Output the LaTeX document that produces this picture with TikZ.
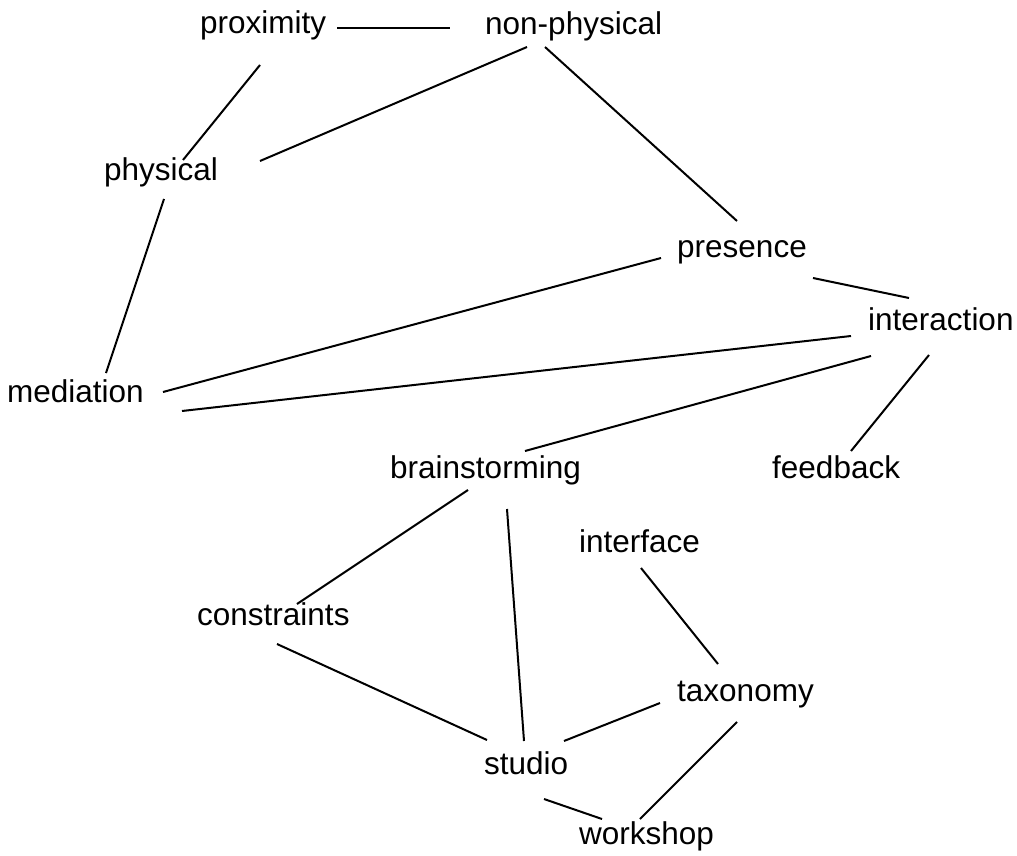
\documentclass[tikz,border=0pt]{standalone}
\usepackage{fontspec}
\setmainfont{Liberation Sans}
\begin{document}
\begin{tikzpicture}[x=1pt,y=-1pt,
  term/.style={anchor=base west, inner sep=0pt,
    font=\fontsize{31.5}{36}\selectfont, text=black},
  link/.style={line width=2pt, draw=black}]
\useasboundingbox[fill=white] (0,0) rectangle (1017,856);

% concept words, placed by their baseline
\node[term] (proximity)     at (200,34)  {proximity};
\node[term] (nonphysical)   at (485,35)  {non-physical};
\node[term] (physical)      at (104,180) {physical};
\node[term] (presence)      at (677,257) {presence};
\node[term] (interaction)   at (868,330) {interaction};
\node[term] (mediation)     at (7,402)   {mediation};
\node[term] (brainstorming) at (390,478) {brainstorming};
\node[term] (feedback)      at (772,478) {feedback};
\node[term] (interface)     at (579,552) {interface};
\node[term] (constraints)   at (197,625) {constraints};
\node[term] (taxonomy)      at (677,701) {taxonomy};
\node[term] (studio)        at (484,774) {studio};
\node[term] (workshop)      at (579,844) {workshop};

% associations between concepts
\draw[link] ([shift={(137,-6)}]proximity.base west)   -- ([shift={(-35,-7)}]nonphysical.base west);
\draw[link] ([shift={(60,31)}]proximity.base west)    -- ([shift={(79,-20)}]physical.base west);
\draw[link] ([shift={(42,12)}]nonphysical.base west)  -- ([shift={(156,-19)}]physical.base west);
\draw[link] ([shift={(60,12)}]nonphysical.base west)  -- ([shift={(60,-36)}]presence.base west);
\draw[link] ([shift={(60,19)}]physical.base west)     -- ([shift={(99,-29)}]mediation.base west);
\draw[link] ([shift={(-16,1)}]presence.base west)     -- ([shift={(156,-10)}]mediation.base west);
\draw[link] ([shift={(136,21)}]presence.base west)    -- ([shift={(41,-32)}]interaction.base west);
\draw[link] ([shift={(-17,6)}]interaction.base west)  -- ([shift={(175,9)}]mediation.base west);
\draw[link] ([shift={(3,26)}]interaction.base west)   -- ([shift={(135,-27)}]brainstorming.base west);
\draw[link] ([shift={(61,25)}]interaction.base west)  -- ([shift={(79,-27)}]feedback.base west);
\draw[link] ([shift={(78,12)}]brainstorming.base west) -- ([shift={(100,-21)}]constraints.base west);
\draw[link] ([shift={(117,31)}]brainstorming.base west) -- ([shift={(40,-33)}]studio.base west);
\draw[link] ([shift={(62,16)}]interface.base west)    -- ([shift={(41,-37)}]taxonomy.base west);
\draw[link] ([shift={(80,19)}]constraints.base west)  -- ([shift={(3,-34)}]studio.base west);
\draw[link] ([shift={(-17,2)}]taxonomy.base west)     -- ([shift={(80,-33)}]studio.base west);
\draw[link] ([shift={(60,21)}]taxonomy.base west)     -- ([shift={(61,-25)}]workshop.base west);
\draw[link] ([shift={(60,25)}]studio.base west)       -- ([shift={(23,-25)}]workshop.base west);
\end{tikzpicture}
\end{document}
